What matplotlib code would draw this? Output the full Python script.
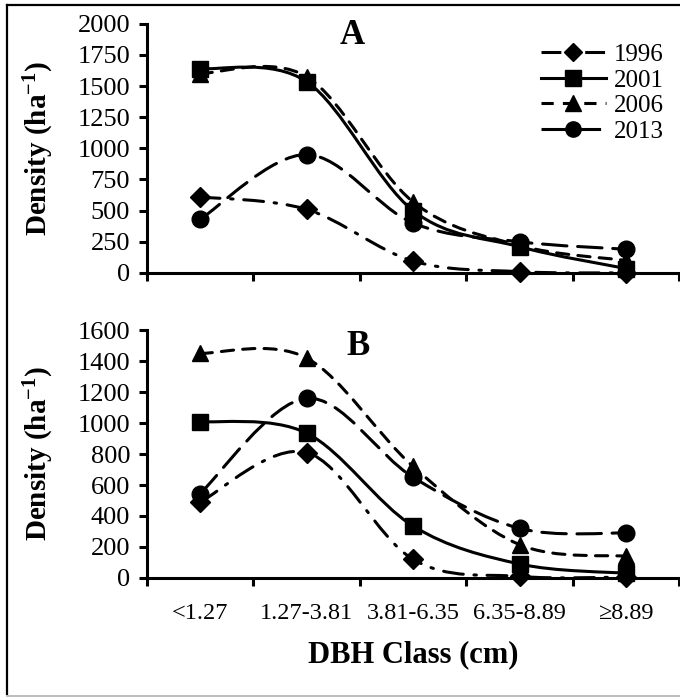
import matplotlib.pyplot as plt
import numpy as np
from matplotlib.lines import Line2D
from matplotlib.patches import PathPatch
from matplotlib.path import Path

plt.rcParams['font.family'] = ['Liberation Serif', 'DejaVu Serif']

classes = ['<1.27', '1.27-3.81', '3.81-6.35', '6.35-8.89', '\u22658.89']
years = ['1996', '2001', '2006', '2013']

# panel A densities (ha-1)
a_1996 = [610, 510, 95, 10, 0]
a_2001 = [1640, 1535, 500, 210, 35]
a_2006 = [1600, 1575, 570, 220, 100]
a_2013 = [430, 950, 400, 250, 190]

# panel B densities (ha-1)
b_1996 = [490, 810, 120, 10, 5]
b_2001 = [1010, 935, 335, 90, 30]
b_2006 = [1450, 1420, 720, 215, 140]
b_2013 = [545, 1160, 650, 320, 290]

LW = 2.2
styles = {
    '1996': dict(marker='D', ms=10, ls=(0, (6.5, 3.5, 0.8, 3.5))),
    '2001': dict(marker='s', ms=12, ls='-'),
    '2006': dict(marker='^', ms=12, ls=(0, (4, 3))),
    '2013': dict(marker='o', ms=12, ls=(0, (8, 3.5))),
}


def smooth_path(xs, ys):
    # excel-like smoothed line: bezier through the points
    pts = np.column_stack([xs, ys]).astype(float)
    n = len(pts)
    verts = [pts[0]]
    codes = [Path.MOVETO]
    for i in range(n - 1):
        p0 = pts[max(i - 1, 0)]
        p1 = pts[i]
        p2 = pts[i + 1]
        p3 = pts[min(i + 2, n - 1)]
        verts += [p1 + (p2 - p0) / 6, p2 - (p3 - p1) / 6, p2]
        codes += [Path.CURVE4] * 3
    return Path(verts, codes)


def draw_panel(ax, series, ymax, ystep, letter, lx, ly, show_x):
    x = np.arange(len(classes)) + 0.5
    for yr, vals in zip(years, series):
        st = styles[yr]
        ax.add_patch(PathPatch(smooth_path(x, vals), fill=False, edgecolor='black',
                               lw=LW, linestyle=st['ls'], capstyle='round'))
        ax.plot(x, vals, linestyle='none', marker=st['marker'], ms=st['ms'],
                color='black', clip_on=False, zorder=3)
    ax.set_xlim(0, len(classes))
    ax.set_ylim(0, ymax)
    ax.set_yticks(np.arange(0, ymax + 1, ystep))
    ax.set_xticks(np.arange(0, len(classes) + 1))
    ax.set_xticklabels([])
    ax.set_xticks(x, minor=True)
    if show_x:
        ax.set_xticklabels(classes, minor=True, fontsize=17.5)
    ax.tick_params(axis='x', which='minor', length=0, pad=18)
    ax.tick_params(axis='x', which='major', direction='out', length=6, width=LW)
    ax.tick_params(axis='y', direction='out', length=6, width=LW, labelsize=19, pad=6)
    for s in ['top', 'right']:
        ax.spines[s].set_visible(False)
    for s in ['left', 'bottom']:
        ax.spines[s].set_linewidth(LW)
    ax.set_ylabel('Density (ha$\\mathregular{^{-1}}$)', fontsize=21, fontweight='bold')
    ax.yaxis.set_label_coords(-0.17, 0.5)
    ax.text(lx, ly, letter, transform=ax.transAxes, fontsize=25, fontweight='bold',
            ha='center', va='center')


fig = plt.figure(figsize=(6.8, 6.98), dpi=100)
axA = fig.add_axes([0.216, 0.609, 0.783, 0.357])
axB = fig.add_axes([0.216, 0.172, 0.783, 0.355])

draw_panel(axA, [a_1996, a_2001, a_2006, a_2013], 2000, 250, 'A', 0.386, 0.952, False)
draw_panel(axB, [b_1996, b_2001, b_2006, b_2013], 1600, 200, 'B', 0.396, 0.935, True)

handles = [Line2D([], [], color='black', lw=LW, linestyle=styles[y]['ls'],
                  marker=styles[y]['marker'], ms=styles[y]['ms'] - 1) for y in years]
axA.legend(handles, years, loc='upper left', bbox_to_anchor=(0.74, 0.92), frameon=False,
           fontsize=18, handlelength=2.6, handletextpad=0.3, labelspacing=0.12,
           borderpad=0, borderaxespad=0)

axB.set_xlabel('DBH Class (cm)', fontsize=22, fontweight='bold', labelpad=12)

# outer frame of the original figure
fig.add_artist(Line2D([0.0103, 0.0103], [0.006, 0.993], color='black', lw=1.6))
fig.add_artist(Line2D([0.0103, 1.0], [0.993, 0.993], color='black', lw=1.6))
fig.add_artist(Line2D([0.0103, 1.0], [0.003, 0.003], color='#b0b0b0', lw=1.2))

fig.savefig('out.png', dpi=100)
